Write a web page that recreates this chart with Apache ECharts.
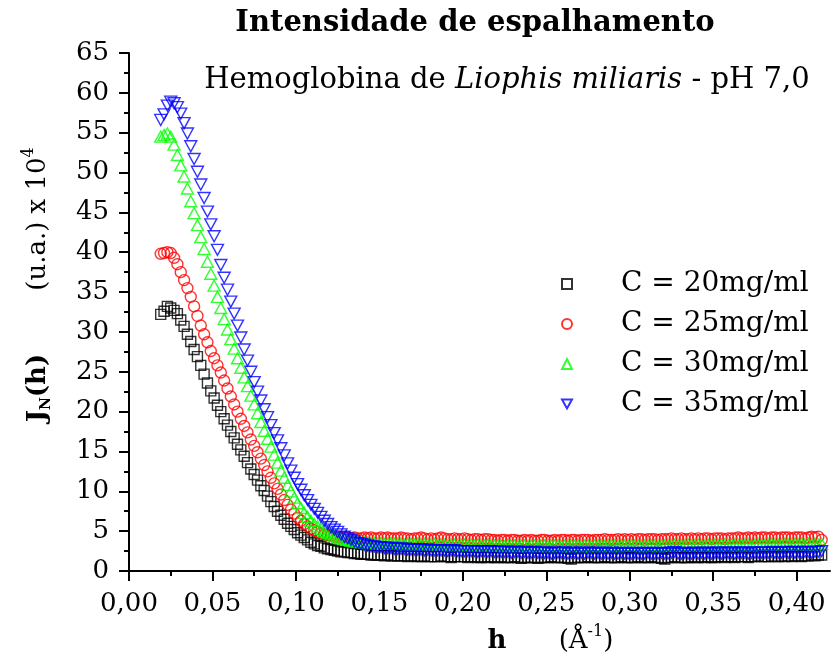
<!DOCTYPE html>
<html>
<head>
<meta charset="utf-8">
<script src="https://cdn.jsdelivr.net/npm/echarts@6/dist/echarts.min.js"></script>
<style>
  html, body { margin: 0; padding: 0; background: #ffffff; }
  #chart { width: 839px; height: 662px; }
</style>
</head>
<body>
<div id="chart"></div>
<script>
// Scattering vector h (Å^-1)
const h = [
  0.019,0.021,0.023,0.025,0.027,0.029,0.031,0.033,0.035,0.037,
  0.039,0.041,0.043,0.045,0.047,0.049,0.051,0.053,0.055,0.057,
  0.059,0.061,0.063,0.065,0.067,0.069,0.071,0.073,0.075,0.077,
  0.079,0.081,0.083,0.085,0.087,0.089,0.091,0.093,0.095,0.097,
  0.099,0.101,0.103,0.105,0.107,0.109,0.111,0.113,0.115,0.117,
  0.119,0.121,0.123,0.125,0.127,0.129,0.131,0.133,0.135,0.137,
  0.139,
  0.141,0.143,0.145,0.147,0.149,0.151,0.153,0.155,0.157,0.159,
  0.161,0.163,0.165,0.167,0.169,0.171,0.173,0.175,0.177,0.179,
  0.181,0.183,0.185,0.187,0.189,0.191,0.193,0.195,0.197,0.199,
  0.201,0.203,0.205,0.207,0.209,0.211,0.213,0.215,0.217,0.219,
  0.221,0.223,0.225,0.227,0.229,0.231,0.233,0.235,0.237,0.239,
  0.241,0.243,0.245,0.247,0.249,0.251,0.253,0.255,0.257,0.259,
  0.261,0.263,0.265,0.267,0.269,0.271,0.273,0.275,0.277,0.279,
  0.281,0.283,0.285,0.287,0.289,0.291,0.293,0.295,0.297,0.299,
  0.301,0.303,0.305,0.307,0.309,0.311,0.313,0.315,0.317,0.319,
  0.321,0.323,0.325,0.327,0.329,0.331,0.333,0.335,0.337,0.339,
  0.341,0.343,0.345,0.347,0.349,0.351,0.353,0.355,0.357,0.359,
  0.361,0.363,0.365,0.367,0.369,0.371,0.373,0.375,0.377,0.379,
  0.381,0.383,0.385,0.387,0.389,0.391,0.393,0.395,0.397,0.399,
  0.401,0.403,0.405,0.407,0.409,0.411,0.413,0.415
];

// J_N(h) in u.a. x 10^4, C = 20 mg/ml
const c20 = [
  32.2,32.6,33.2,33.0,32.7,32.3,31.5,30.7,29.7,28.8,
  27.8,26.9,25.8,24.7,23.6,22.6,21.7,20.8,20.0,19.1,
  18.3,17.5,16.7,15.9,15.2,14.4,13.6,12.8,12.1,11.4,
  10.7,10.1,9.4,8.7,8.1,7.5,7.0,6.5,6.0,5.6,
  5.2,4.8,4.5,4.2,3.9,3.6,3.4,3.2,3.1,2.9,
  2.8,2.7,2.6,2.5,2.4,2.4,2.3,2.3,2.2,2.2,
  2.1,
  2.1,2.1,2.0,2.0,2.0,2.0,1.9,2.0,1.9,1.9,
  1.9,1.9,1.9,1.8,1.9,1.9,1.8,1.8,1.9,1.8,
  1.8,1.8,1.8,1.9,1.8,1.8,1.7,1.8,1.8,1.8,
  1.8,1.7,1.8,1.8,1.7,1.7,1.8,1.7,1.8,1.7,
  1.7,1.8,1.7,1.7,1.7,1.8,1.7,1.6,1.7,1.7,
  1.7,1.7,1.6,1.7,1.7,1.7,1.8,1.7,1.7,1.7,
  1.7,1.6,1.5,1.7,1.7,1.7,1.7,1.8,1.7,1.7,
  1.7,1.7,1.8,1.7,1.7,1.7,1.7,1.8,1.7,1.7,
  1.7,1.7,1.8,1.7,1.7,1.7,1.8,1.7,1.7,1.6,
  1.5,1.7,1.7,1.8,1.7,1.7,1.7,1.7,1.8,1.7,
  1.7,1.8,1.7,1.8,1.7,1.7,1.8,1.8,1.7,1.8,
  1.8,1.7,1.8,1.8,1.8,1.7,1.8,1.8,1.9,1.8,
  1.8,1.8,1.9,1.8,1.8,1.9,1.8,1.9,1.8,1.9,
  1.9,1.8,1.9,1.9,2.0,1.9,2.0,2.0
];

// C = 25 mg/ml
const c25 = [
  39.8,39.9,40.0,39.9,39.3,38.5,37.5,36.5,35.5,34.4,
  33.2,32.0,30.8,29.7,28.7,27.6,26.7,25.8,24.9,23.9,
  22.9,21.9,20.9,20.0,19.1,18.2,17.4,16.5,15.7,14.9,
  14.1,13.3,12.5,11.7,11.0,10.3,9.6,8.9,8.3,7.7,
  7.2,6.7,6.3,5.9,5.6,5.3,5.1,4.9,4.7,4.6,
  4.5,4.4,4.3,4.3,4.2,4.2,4.2,4.1,4.2,4.1,
  4.1,
  4.2,4.1,4.2,4.1,4.1,4.2,4.1,4.2,4.1,4.1,
  4.1,4.2,4.1,4.1,4.0,4.1,4.1,4.2,4.1,4.0,
  4.1,4.0,4.1,4.2,4.1,4.0,4.0,4.1,4.0,4.0,
  4.1,4.0,3.9,4.0,4.0,3.9,4.0,4.0,3.9,3.9,
  3.8,3.9,3.9,3.8,3.9,3.9,3.8,3.8,3.9,3.8,
  3.9,3.8,3.8,3.9,3.9,3.8,3.8,3.9,3.8,3.9,
  3.9,3.8,3.9,3.9,3.8,3.9,3.9,3.9,3.8,3.9,
  3.9,3.9,4.0,3.9,3.9,3.9,4.0,3.9,4.0,3.9,
  4.0,3.9,4.0,4.0,3.9,4.0,4.0,4.0,3.9,4.0,
  4.0,4.0,4.1,4.0,4.0,4.1,4.0,4.0,4.1,4.0,
  4.1,4.0,4.1,4.1,4.0,4.1,4.1,4.1,4.0,4.1,
  4.1,4.1,4.2,4.1,4.1,4.2,4.1,4.2,4.1,4.2,
  4.2,4.1,4.2,4.2,4.1,4.2,4.2,4.2,4.1,4.2,
  4.2,4.2,4.1,4.2,4.3,4.2,4.3,3.9
];

// C = 30 mg/ml
const c30 = [
  54.5,54.7,54.9,54.5,53.5,52.2,50.9,49.5,48.0,46.4,
  44.9,43.4,41.9,40.4,38.8,37.3,35.8,34.4,33.0,31.6,
  30.3,29.1,27.9,26.7,25.5,24.3,23.2,22.0,20.9,19.8,
  18.7,17.6,16.6,15.6,14.6,13.6,12.6,11.7,10.8,10.0,
  9.2,8.5,7.9,7.3,6.8,6.3,5.9,5.6,5.3,5.0,
  4.8,4.6,4.4,4.2,4.1,4.0,3.9,3.8,3.7,3.7,
  3.6,
  3.6,3.5,3.5,3.5,3.4,3.5,3.4,3.4,3.5,3.4,
  3.4,3.4,3.3,3.4,3.4,3.3,3.4,3.3,3.4,3.3,
  3.3,3.4,3.3,3.3,3.3,3.2,3.3,3.3,3.2,3.3,
  3.3,3.2,3.3,3.2,3.3,3.2,3.2,3.3,3.2,3.2,
  3.2,3.2,3.1,3.2,3.2,3.2,3.1,3.2,3.2,3.1,
  3.2,3.2,3.1,3.2,3.2,3.1,3.2,3.2,3.2,3.1,
  3.2,3.1,3.2,3.2,3.2,3.1,3.2,3.2,3.1,3.2,
  3.2,3.2,3.1,3.2,3.2,3.2,3.1,3.2,3.2,3.2,
  3.2,3.2,3.2,3.1,3.2,3.2,3.2,3.2,3.1,3.2,
  3.2,3.2,3.2,3.3,3.2,3.2,3.2,3.3,3.2,3.2,
  3.3,3.2,3.2,3.3,3.2,3.3,3.2,3.3,3.3,3.2,
  3.3,3.3,3.2,3.3,3.3,3.3,3.2,3.3,3.3,3.3,
  3.3,3.3,3.4,3.3,3.3,3.3,3.4,3.3,3.3,3.4,
  3.3,3.4,3.3,3.4,3.3,3.4,3.3,3.4
];

// C = 35 mg/ml
const c35 = [
  56.6,57.3,58.4,58.9,58.7,58.2,57.4,56.2,54.9,53.3,
  51.7,50.1,48.5,46.8,45.1,43.5,42.0,40.3,38.4,36.8,
  35.3,33.8,32.3,30.8,29.3,27.8,26.4,25.0,23.7,22.5,
  21.4,20.3,19.3,18.3,17.3,16.4,15.4,14.5,13.5,12.6,
  11.7,10.9,10.2,9.5,8.9,8.3,7.8,7.3,6.8,6.3,
  5.9,5.5,5.2,4.9,4.6,4.3,4.1,3.9,3.7,3.5,
  3.4,
  3.3,3.2,3.1,3.1,3.0,3.0,2.9,2.9,2.9,2.8,
  2.8,2.8,2.8,2.7,2.7,2.7,2.7,2.7,2.6,2.7,
  2.6,2.6,2.6,2.6,2.6,2.5,2.6,2.6,2.5,2.5,
  2.5,2.5,2.5,2.5,2.4,2.5,2.5,2.4,2.5,2.4,
  2.4,2.4,2.4,2.4,2.3,2.4,2.4,2.3,2.4,2.3,
  2.3,2.4,2.3,2.3,2.3,2.3,2.2,2.3,2.3,2.3,
  2.3,2.2,2.3,2.3,2.2,2.3,2.2,2.3,2.3,2.2,
  2.3,2.2,2.3,2.2,2.3,2.2,2.2,2.3,2.2,2.2,
  2.2,2.3,2.2,2.2,2.2,2.3,2.2,2.2,2.2,2.3,
  2.2,2.2,2.3,2.4,2.2,2.2,2.3,2.2,2.2,2.3,
  2.2,2.3,2.2,2.3,2.2,2.3,2.3,2.2,2.3,2.3,
  2.3,2.2,2.3,2.3,2.3,2.2,2.3,2.3,2.3,2.3,
  2.3,2.3,2.4,2.3,2.3,2.3,2.4,2.3,2.4,2.3,
  2.4,2.3,2.4,2.4,2.3,2.4,2.4,2.5
];

const seriesNames = ['C = 20mg/ml', 'C = 25mg/ml', 'C = 30mg/ml', 'C = 35mg/ml'];
const xMajorTicks = [0, 0.05, 0.10, 0.15, 0.20, 0.25, 0.30, 0.35, 0.40];
const xMinorTicks = [0.025, 0.075, 0.125, 0.175, 0.225, 0.275, 0.325, 0.375];

const FONT = '"DejaVu Serif"';
const AX = { color: '#000', width: 2 };

const chart = echarts.init(document.getElementById('chart'), null, { renderer: 'canvas' });

function points(values) {
  return h.map((x, i) => [x, values[i]]);
}

function hollow(color, symbol, size) {
  return {
    type: 'scatter',
    xAxisIndex: 0,
    yAxisIndex: 0,
    symbol: symbol,
    symbolSize: size,
    itemStyle: { color: 'rgba(0,0,0,0)', borderColor: color, borderWidth: 1.4 },
    emphasis: { disabled: true }
  };
}

const series = [
  Object.assign(hollow('#000000', 'rect', [10, 10]), { name: seriesNames[0], data: points(c20) }),
  Object.assign(hollow('#ff0000', 'circle', [11, 11]), { name: seriesNames[1], data: points(c25) }),
  Object.assign(hollow('#00ff00', 'triangle', [12, 11]), { name: seriesNames[2], data: points(c30) }),
  Object.assign(hollow('#0000ff', 'path://M0,0 L10,0 L5,9 Z', [12, 11]), { name: seriesNames[3], data: points(c35) })
];

const option = {
  animation: false,
  backgroundColor: '#ffffff',
  grid: { left: 129, right: 9, top: 53, bottom: 91, outerBoundsMode: 'none' },
  legend: {
    orient: 'vertical',
    left: 556,
    top: 265,
    itemWidth: 10,
    itemHeight: 10,
    itemGap: 12,
    data: seriesNames,
    formatter: '{t|{name}}',
    textStyle: {
      rich: {
        t: { fontFamily: FONT, fontSize: 28, color: '#000', lineHeight: 28, padding: [0, 0, 0, 44] }
      }
    }
  },
  xAxis: [
    {
      type: 'value', min: 0, max: 0.42, position: 'bottom',
      axisLine: { show: true, lineStyle: AX },
      axisTick: { show: true, customValues: xMajorTicks, length: 10, lineStyle: AX },
      axisLabel: {
        customValues: xMajorTicks, margin: 20, color: '#000', fontFamily: FONT, fontSize: 26,
        formatter: v => v.toFixed(2).replace('.', ',')
      },
      splitLine: { show: false }
    },
    {
      type: 'value', min: 0, max: 0.42, position: 'bottom',
      axisLine: { show: false },
      axisTick: { show: true, customValues: xMinorTicks, length: 5, lineStyle: AX },
      axisLabel: { show: false },
      splitLine: { show: false }
    }
  ],
  yAxis: {
    type: 'value', min: 0, max: 65, interval: 5,
    axisLine: { show: true, lineStyle: AX },
    axisTick: { show: true, length: 10, lineStyle: AX },
    minorTick: { show: true, splitNumber: 2, length: 5, lineStyle: AX },
    axisLabel: { margin: 20, color: '#000', fontFamily: FONT, fontSize: 26 },
    splitLine: { show: false }
  },
  graphic: [
    {
      type: 'text', x: 475, y: 23,
      style: {
        text: 'Intensidade de espalhamento', fill: '#000',
        font: 'bold 29px "DejaVu Serif"', align: 'center', verticalAlign: 'middle'
      }
    },
    {
      type: 'text', x: 507, y: 80,
      style: {
        text: '{n|Hemoglobina de }{i|Liophis miliaris}{n| - pH 7,0}',
        align: 'center', verticalAlign: 'middle',
        rich: {
          n: { fontFamily: FONT, fontSize: 29, fill: '#000', color: '#000' },
          i: { fontFamily: FONT, fontSize: 29, fontStyle: 'italic', fill: '#000', color: '#000' }
        }
      }
    },
    {
      type: 'text', x: 38, y: 388, rotation: Math.PI / 2,
      style: {
        text: '{b|J}{s|N}{b|(h)}',
        align: 'center', verticalAlign: 'middle',
        rich: {
          b: { fontFamily: FONT, fontSize: 26, fontWeight: 'bold', color: '#000', lineHeight: 30 },
          s: { fontFamily: FONT, fontSize: 14, fontWeight: 'bold', color: '#000', lineHeight: 30, verticalAlign: 'bottom' }
        }
      }
    },
    {
      type: 'text', x: 38, y: 219, rotation: Math.PI / 2,
      style: {
        text: '{n|(u.a.) x 10}{p|4}',
        align: 'center', verticalAlign: 'middle',
        rich: {
          n: { fontFamily: FONT, fontSize: 26, color: '#000', lineHeight: 34 },
          p: { fontFamily: FONT, fontSize: 16, color: '#000', lineHeight: 34, verticalAlign: 'top' }
        }
      }
    },
    {
      type: 'text', x: 497, y: 641,
      style: {
        text: 'h', fill: '#000',
        font: 'bold 26px "DejaVu Serif"', align: 'center', verticalAlign: 'middle'
      }
    },
    {
      type: 'text', x: 586, y: 641,
      style: {
        text: '{n|(Å}{p|-1}{n|)}',
        align: 'center', verticalAlign: 'middle',
        rich: {
          n: { fontFamily: FONT, fontSize: 26, color: '#000', lineHeight: 34 },
          p: { fontFamily: FONT, fontSize: 16, color: '#000', lineHeight: 34, verticalAlign: 'top' }
        }
      }
    }
  ],
  series: series
};

chart.setOption(option);
</script>
</body>
</html>
